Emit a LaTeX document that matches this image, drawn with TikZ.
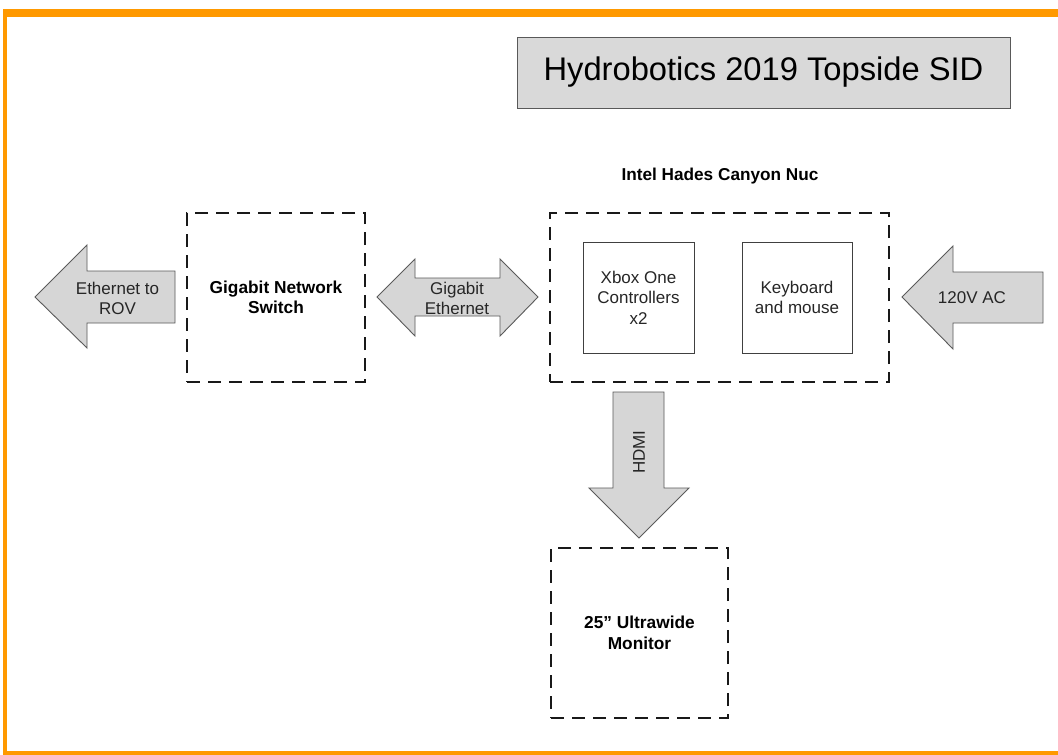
\documentclass[tikz,border=0pt]{standalone}
\usepackage{fontspec}
\setmainfont{Liberation Sans}
\definecolor{orangeb}{HTML}{FF9900}
\definecolor{arrowfill}{HTML}{D6D6D6}
\definecolor{arrowline}{HTML}{5A5A5A}
\definecolor{titlefill}{HTML}{D9D9D9}
\tikzset{
  dbox/.style={draw=black!90, line width=2pt, dash pattern=on 13pt off 8pt, fill=white, inner sep=0pt, align=center, font=\fontsize{17.3}{20.5}\selectfont\bfseries},
  ibox/.style={draw=black!75, line width=1pt, inner sep=0pt, align=center, font=\fontsize{17}{20.5}\selectfont, text=black!85},
  blockarrow/.style={draw=arrowline, line width=0.9pt, fill=arrowfill, line join=miter},
  alabel/.style={align=center, inner sep=0pt, font=\fontsize{17}{20}\selectfont, text=black!85},
}
\begin{document}
\begin{tikzpicture}[x=1pt,y=-1pt]
\useasboundingbox (0,0) rectangle (1058,755);
\fill[white] (0,0) rectangle (1058,755);
% orange frame
\fill[orangeb] (3,9) rectangle (1058,17);
\fill[orangeb] (3,9) rectangle (7,755);
\fill[orangeb] (3,751) rectangle (1058,755);

% title
\node[draw=black!65, line width=1pt, fill=titlefill, minimum width=493pt, minimum height=71pt, inner sep=0pt, font=\fontsize{32.7}{38}\selectfont] (title) at (763.5,72.5) {Hydrobotics 2019 Topside SID};

% main boxes
\node[dbox, minimum width=178pt, minimum height=169pt] (switch) at (276,297.5) {Gigabit Network\\Switch};
\node[dbox, minimum width=339pt, minimum height=169pt] (nuc) at (719.5,297.5) {};
\node[font=\fontsize{17.2}{20}\selectfont\bfseries, inner sep=0pt] (nuclabel) at (720,176) {Intel Hades Canyon Nuc};
\node[ibox, minimum width=111pt, minimum height=111pt] (xbox) at (638.5,297.5) {Xbox One\\Controllers\\x2};
\node[ibox, minimum width=110pt, minimum height=111pt] (kbd) at (797,297.5) {Keyboard\\and mouse};
\node[dbox, minimum width=177pt, minimum height=170pt] (monitor) at (639.5,633) {25'' Ultrawide\\Monitor};

% Ethernet to ROV arrow
\draw[blockarrow] (35,297) -- (87,245) -- (87,271) -- (175,271) -- (175,323) -- (87,323) -- (87,348) -- cycle;
\node[alabel] (rov) at (117.5,298) {Ethernet to\\ROV};

% Gigabit Ethernet double arrow
\draw[blockarrow] (377,297) -- (415,259) -- (415,278) -- (500,278) -- (500,259) -- (538,297) -- (500,336) -- (500,316) -- (415,316) -- (415,336) -- cycle;
\node[alabel] (gbe) at (457,298) {Gigabit\\Ethernet};

% 120V AC arrow
\draw[blockarrow] (902,297) -- (953,246) -- (953,272) -- (1043,272) -- (1043,323) -- (953,323) -- (953,349) -- cycle;
\node[alabel] (power) at (972,298) {120V AC};

% HDMI arrow
\draw[blockarrow] (613,392) -- (664,392) -- (664,488) -- (689,488) -- (639,538) -- (589,488) -- (613,488) -- cycle;
\node[alabel, rotate=90] (hdmi) at (639,452) {HDMI};
\end{tikzpicture}
\end{document}
